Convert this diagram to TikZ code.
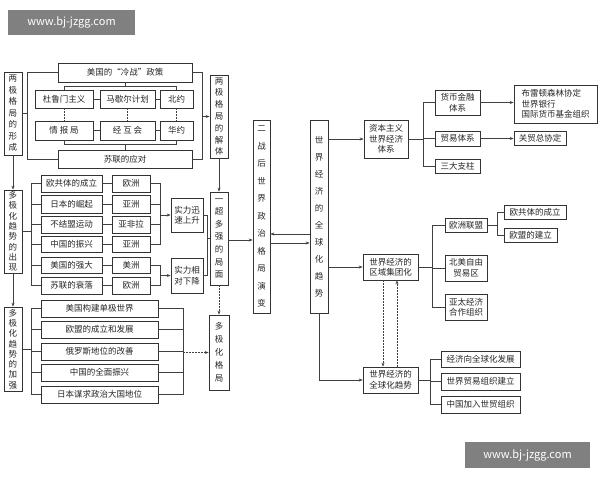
\documentclass[tikz,border=0pt]{standalone}
\usepackage{fontspec}
\setmainfont{Noto Sans CJK SC}
\usetikzlibrary{arrows.meta}
\newcommand\mybox[7][]{\pgfmathsetmacro\cx{(#3+#5)/2}\pgfmathsetmacro\cy{(#4+#6)/2}\pgfmathsetmacro\w{#5-#3}\pgfmathsetmacro\h{#6-#4}\node[bx,minimum width=\w pt,minimum height=\h pt,#1] (#2) at (\cx,\cy) {#7};}
\begin{document}
\begin{tikzpicture}[x=1pt,y=-1pt,
 bx/.style={draw=black!80,line width=0.7pt,inner sep=0pt,align=center,font=\fontsize{8.5}{10.5}\selectfont,text=black!85},
 vf/.style={font=\fontsize{8.5}{#1}\selectfont},
 ln/.style={draw=black!75,line width=0.6pt},
 ar/.style={ln,-{Stealth[length=4pt,width=3pt]}},
 dt/.style={ln,dash pattern=on 1.5pt off 1.5pt},
 wm/.style={fill=black!50,text=white,inner sep=0pt,font=\fontsize{11}{12}\selectfont}]
\path[fill=white] (0,0) rectangle (600,480);
% watermarks
\node[wm,minimum width=127pt,minimum height=25pt] (w1) at (71.5,22.5) {www.bj-jzgg.com};
\node[wm,minimum width=125pt,minimum height=26pt] (w2) at (527.5,455) {www.bj-jzgg.com};
% left column
\mybox[vf=11.5]{lf}{4}{72}{22}{155}{两\\极\\格\\局\\的\\形\\成}
\mybox[vf=10.3]{dc}{4}{190}{22}{273}{多\\极\\化\\趋\\势\\的\\出\\现}
\mybox[vf=10.3]{dj}{4}{307}{22}{391}{多\\极\\化\\趋\\势\\的\\加\\强}
\draw[ar] (lf.south) -- (dc.north);
\draw[ar] (dc.south) -- (dj.north);
% top group
\mybox{mg}{58}{63}{192}{82}{美国的“冷战”政策}
\mybox{dl}{35}{90}{93}{108}{杜鲁门主义}
\mybox{me}{100}{90}{155}{108}{马歇尔计划}
\mybox{by}{160}{90}{193}{108}{北约}
\mybox{qb}{35}{121}{93}{140}{情 报 局}
\mybox{jh}{100}{121}{155}{140}{经 互 会}
\mybox{hy}{160}{121}{193}{140}{华约}
\mybox{sl}{58}{150}{192}{168}{苏联的应对}
\draw[ln] (dl.east) -- (me.west); \draw[ln] (me.east) -- (by.west);
\draw[ln] (qb.east) -- (jh.west); \draw[ln] (jh.east) -- (hy.west);
\draw[ln] (mg.south) -- ++(0,4) coordinate (t1);
\draw[ln] (t1 -| dl.north) -- (t1 -| hy.north);
\draw[ln] (t1 -| dl.north) -- (dl.north); \draw[ln] (t1 -| hy.north) -- (by.north);
\draw[ln] (sl.north) -- ++(0,-5) coordinate (t2);
\draw[ln] (t2 -| qb.south) -- (t2 -| hy.south);
\draw[ln] (t2 -| qb.south) -- (qb.south); \draw[ln] (t2 -| hy.south) -- (hy.south);
\draw[dt] (dl.south) -- (qb.north); \draw[dt] (me.south) -- (jh.north); \draw[dt] (by.south) -- (hy.north);
\draw[ln] (mg.west) -- ++(-30,0) coordinate (lb1) |- (sl.west);
\draw[ln] (lf.east) -- (lf.east -| lb1);
\mybox[vf=11.8]{jt}{210}{75}{228}{158}{两\\极\\格\\局\\的\\解\\体}
\draw[ln] (mg.east) -- ++(10,0) coordinate (rb1) |- (sl.east);
\draw[ar] (rb1 |- jt.west) -- (jt.west);
\mybox[vf=12.6]{yc}{210}{192}{228}{285}{一\\超\\多\\强\\的\\局\\面}
\draw[ar] (jt.south) -- (yc.north);
\mybox[vf=13]{dg}{209}{315}{229}{390}{多\\极\\化\\格\\局}
\draw[dt,-{Stealth[length=4pt,width=3pt]}] (yc.south) -- (dg.north);
% middle group
\mybox{a1}{41}{175}{102}{192}{欧共体的成立}
\mybox{a2}{41}{195}{102}{213}{日本的崛起}
\mybox{a3}{41}{216}{102}{233}{不结盟运动}
\mybox{a4}{41}{236}{102}{252}{中国的振兴}
\mybox{a5}{41}{257}{102}{273}{美国的强大}
\mybox{a6}{41}{277}{102}{294}{苏联的衰落}
\mybox{b1}{112}{175}{150}{192}{欧洲}
\mybox{b2}{112}{195}{150}{213}{亚洲}
\mybox{b3}{112}{216}{150}{233}{亚非拉}
\mybox{b4}{112}{236}{150}{252}{亚洲}
\mybox{b5}{112}{257}{150}{273}{美洲}
\mybox{b6}{112}{277}{150}{294}{欧洲}
\foreach \i in {1,...,6}{\draw[ln] (a\i.east) -- (b\i.west);}
\draw[ln] (a1.west) -- ++(-9,0) coordinate (lb2) |- (a6.west);
\foreach \i in {2,...,5}{\draw[ln] (a\i.west) -- (a\i.west -| lb2);}
\draw[ln] (dc.east |- 0,231) coordinate (d0) -- (d0 -| lb2);
\mybox{s1}{171}{198}{203}{232}{实力迅\\速上升}
\mybox{s2}{171}{258}{203}{293}{实力相\\对下降}
\draw[ln] (b1.east) -- ++(10,0) coordinate (rb2) |- (b4.east);
\draw[ln] (b2.east) -- (b2.east -| rb2); \draw[ln] (b3.east) -- (b3.east -| rb2);
\draw[ar] (rb2 |- s1.west) -- (s1.west);
\draw[ln] (b5.east) -- (b5.east -| rb2) |- (b6.east);
\draw[ar] (rb2 |- s2.west) -- (s2.west);
\draw[ln] (s1.east) -- ++(4,0) coordinate (m1) -- (m1 |- s2.east) -- (s2.east);
\draw[ln] (m1 |- yc.west) -- (yc.west);
% strengthening group
\mybox{c1}{41}{300}{158}{317}{美国构建单极世界}
\mybox{c2}{41}{321}{158}{338}{欧盟的成立和发展}
\mybox{c3}{41}{343}{158}{360}{俄罗斯地位的改善}
\mybox{c4}{41}{364}{158}{381}{中国的全面振兴}
\mybox{c5}{41}{386}{158}{403}{日本谋求政治大国地位}
\draw[ln] (c1.west) -- ++(-9,0) coordinate (lb3) |- (c5.west);
\foreach \i in {2,3,4}{\draw[ln] (c\i.west) -- (c\i.west -| lb3);}
\draw[ln] (dj.east) -- (dj.east -| lb3);
\draw[ln] (c1.east) -- ++(25,0) coordinate (rb3) |- (c5.east);
\foreach \i in {2,3,4}{\draw[ln] (c\i.east) -- (c\i.east -| rb3);}
\draw[dt,-{Stealth[length=4pt,width=3pt]}] (rb3 |- dg.west) -- (dg.west);
% centre
\mybox[vf=17.5]{ez}{253}{120}{270}{313}{二\\战\\后\\世\\界\\政\\治\\格\\局\\演\\变}
\mybox[vf=17]{sj}{310}{120}{328}{313}{世\\界\\经\\济\\的\\全\\球\\化\\趋\\势}
\draw[ar] (yc.east |- 0,240) -- (ez.west |- 0,240);
\draw[ar] (sj.west |- 0,234) -- (ez.east |- 0,234);
\draw[ar] (ez.east |- 0,243) -- (sj.west |- 0,243);
% right upper
\mybox{zb}{364}{120}{408}{158}{资本主义\\世界经济\\体系}
\draw[ar] (sj.east |- zb.west) -- (zb.west);
\mybox{hb}{435}{90}{480}{115}{货币金融\\体系}
\mybox{my}{435}{131}{480}{146}{贸易体系}
\mybox{sd}{435}{159}{480}{173}{三大支柱}
\draw[ln] (zb.east) -- ++(15,0) coordinate (rb4);
\draw[ln] (hb.west) -- (hb.west -| rb4) |- (sd.west);
\draw[ln] (my.west) -- (my.west -| rb4);
\mybox[align=left]{bl}{514}{85}{597}{123}{布雷顿森林协定\\世界银行\\国际货币基金组织}
\mybox{gm}{514}{131}{566}{145}{关贸总协定}
\draw[ar] (hb.east) -- (bl.west |- hb.east);
\draw[ar] (my.east) -- (gm.west |- my.east);
% right middle
\mybox{qy}{363}{254}{418}{280}{世界经济的\\区域集团化}
\draw[ar] (sj.east |- qy.west) -- (qy.west);
\mybox{om}{445}{218}{487}{232}{欧洲联盟}
\mybox{bm}{445}{255}{487}{281}{北美自由\\贸易区}
\mybox{yt}{445}{294}{487}{320}{亚太经济\\合作组织}
\draw[ln] (qy.east) -- ++(14,0) coordinate (rb5);
\draw[ln] (om.west) -- (om.west -| rb5) |- (yt.west);
\draw[ln] (bm.west) -- (bm.west -| rb5);
\mybox{og}{504}{205}{566}{219}{欧共体的成立}
\mybox{oj}{504}{228}{557}{242}{欧盟的建立}
\draw[ln] (om.east) -- ++(10,0) coordinate (rb6);
\draw[ln] (og.west) -- (og.west -| rb6) |- (oj.west);
% globalization
\mybox{qq}{363}{367}{418}{393}{世界经济的\\全球化趋势}
\draw[dt,-{Stealth[length=4pt,width=3pt]}] (qy.south -| 383,0) -- (qq.north -| 383,0);
\draw[dt,-{Stealth[length=4pt,width=3pt]}] (qq.north -| 397,0) -- (qy.south -| 397,0);
\draw[ar] (sj.south) |- (qq.west);
\mybox{g1}{441}{351}{520}{367}{经济向全球化发展}
\mybox{g2}{441}{373}{520}{390}{世界贸易组织建立}
\mybox{g3}{441}{396}{520}{413}{中国加入世贸组织}
\draw[ln] (qq.east) -- ++(12,0) coordinate (rb7);
\draw[ln] (g1.west) -- (g1.west -| rb7) |- (g3.west);
\draw[ln] (g2.west) -- (g2.west -| rb7);
\end{tikzpicture}
\end{document}
